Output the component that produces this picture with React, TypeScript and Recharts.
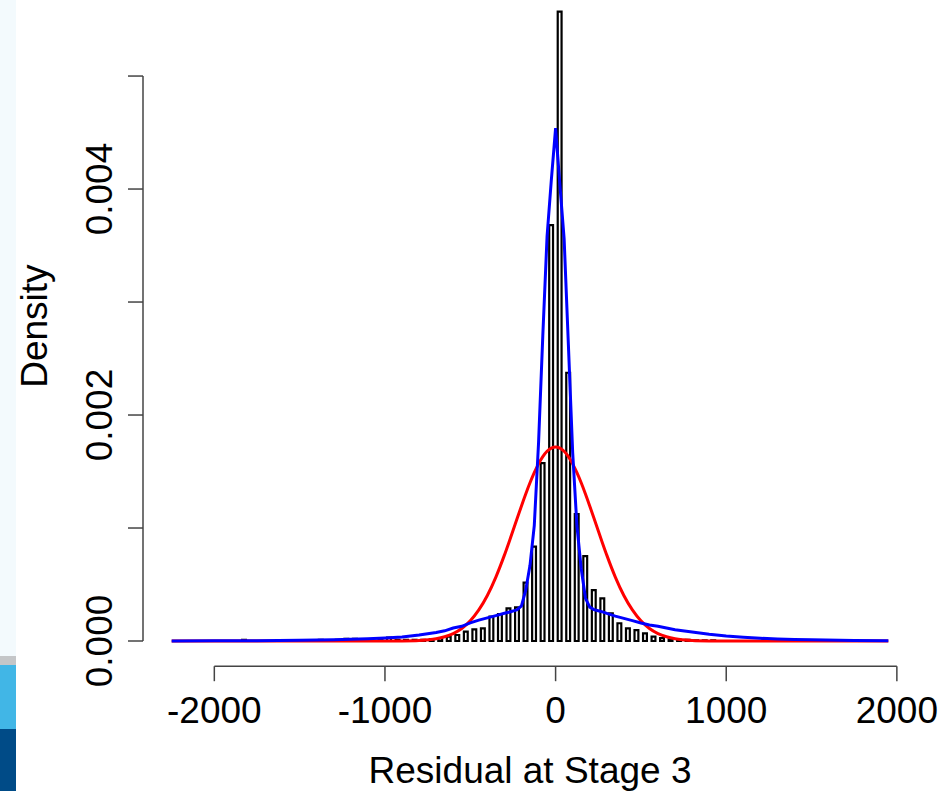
import {
  ComposedChart,
  Bar,
  Line,
  XAxis,
  YAxis,
  ReferenceLine,
} from 'recharts';

// histogram: bins of width 50 starting at -2250 (density per bin)
const binStart = -2250;
const binWidth = 50;
const histDensity = [
  0, 0, 0, 0, 0, 0, 0, 0, 0.00001, 0, // -2250 .. -1800
  0, 0, 0, 0, 0, 0, 0, 0.00001, 0, 0.00001, // -1750 .. -1300
  0.00002, 0.00002, 0.00001, 0, 0.00001, 0.00003, 0.00001, 0.00001, 0.00001, 0.00001, // -1250 .. -800
  0.000015, 0.000024, 0.000038, 0.000053, 0.000083, 0.000103, 0.000112, 0.000215, 0.000239, 0.000289, // -750 .. -300
  0.000298, 0.000516, 0.000835, 0.001575, 0.00368, 0.00557, 0.002374, 0.001124, 0.000752, 0.000451, // -250 .. 200
  0.000378, 0.000245, 0.000157, 0.000112, 0.000097, 0.000068, 0.000038, 0.000025, 0.000015, 0.00001, // 250 .. 700
  0.00001, 0.000005, 0.000005, 0.000005, 0, 0, 0, 0, 0, 0.00001, // 750 .. 1200
  0, 0, 0, 0, 0, 0, 0, 0, 0, 0, 0, 0, 0, 0, // 1250 .. 1900
];

// fitted density curves
const curveX = [
  -2250, -2000, -1750, -1500, -1400, -1300, -1200, -1100, -1000, -900,
  -800, -700, -650, -600, -550, -500, -450, -400, -350, -300,
  -275, -250, -225, -200, -175, -150, -125, -100, -75, -50,
  -25, 0, 25, 50, 75, 100, 125, 150, 175, 200,
  225, 250, 275, 300, 350, 400, 450, 500, 550, 600,
  650, 700, 800, 900, 1000, 1100, 1200, 1300, 1400, 1500,
  1750, 1950,
];
const normalFit = [
  0, 0, 0, 0, 0, 0, 0, 0, 0, 0.000001,
  0.000005, 0.00002, 0.000038, 0.000066, 0.000111, 0.000179, 0.000275, 0.000403, 0.000566, 0.00076,
  0.000866, 0.000975, 0.001086, 0.001195, 0.001301, 0.0014, 0.00149, 0.001568, 0.001632, 0.001679,
  0.001707, 0.001717, 0.001707, 0.001679, 0.001632, 0.001568, 0.00149, 0.0014, 0.001301, 0.001195,
  0.001086, 0.000975, 0.000866, 0.00076, 0.000566, 0.000403, 0.000275, 0.000179, 0.000111, 0.000066,
  0.000038, 0.00002, 0.000005, 0.000001, 0, 0, 0, 0, 0, 0,
  0, 0,
];
const heavyTailFit = [
  0.000001, 0.000002, 0.000003, 0.000006, 0.000008, 0.000011, 0.000015, 0.00002, 0.000027, 0.000036,
  0.000053, 0.000075, 0.00009, 0.000115, 0.00013, 0.00016, 0.000185, 0.000205, 0.000225, 0.000245,
  0.000255, 0.000265, 0.000278, 0.00031, 0.00045, 0.00067, 0.00102, 0.00175, 0.0027, 0.00358,
  0.00408, 0.00454, 0.00404, 0.00356, 0.00262, 0.00167, 0.00102, 0.00064, 0.00038, 0.0003,
  0.000278, 0.000268, 0.000258, 0.000245, 0.00022, 0.0002, 0.00018, 0.00016, 0.000142, 0.00013,
  0.000115, 0.0001, 0.00008, 0.00006, 0.000044, 0.000033, 0.000024, 0.000018, 0.000013, 0.00001,
  0.000005, 0.000002,
];

const xTicks = [-2000, -1000, 0, 1000, 2000];
const yTicks = [0, 0.001, 0.002, 0.003, 0.004, 0.005];
const yTickLabels = ['0.000', '', '0.002', '', '0.004', ''];

const histData = histDensity.map((d, i) => ({
  x: binStart + binWidth * i + binWidth / 2,
  density: d,
}));
const normalData = curveX.map((x, i) => ({ x, y: normalFit[i] }));
const heavyData = curveX.map((x, i) => ({ x, y: heavyTailFit[i] }));

const W = 941;
const H = 791;
const X_DOMAIN: [number, number] = [-2418, 2118];
const Y_DOMAIN: [number, number] = [-0.000223, 0.005673];
const LEFT = 143;
const RIGHT = 24;
const BOTTOM = 124.8;

const plotW = W - LEFT - RIGHT;
const barPx = (binWidth * plotW) / (X_DOMAIN[1] - X_DOMAIN[0]);

const font = {
  fontFamily: '"Liberation Sans", Arial, Helvetica, sans-serif',
  fontSize: 37,
  fill: '#000',
};
const axisStroke = '#444';

function XTick(props: any) {
  const { x, y, payload } = props;
  return (
    <text x={x} y={y + 40} textAnchor="middle" style={font}>
      {payload.value}
    </text>
  );
}

function YTick(props: any) {
  const { x, y, payload } = props;
  const label = yTickLabels[yTicks.indexOf(payload.value)];
  if (!label) return <g />;
  const tx = x - 14;
  return (
    <text x={tx} y={y} textAnchor="middle" transform={`rotate(-90, ${tx}, ${y})`} style={font}>
      {label}
    </text>
  );
}

function XLabel(props: any) {
  const vb = props.viewBox ?? { x: LEFT, y: H - BOTTOM, width: plotW, height: BOTTOM };
  return (
    <text x={vb.x + vb.width / 2} y={vb.y + 117} textAnchor="middle" style={font}>
      Residual at Stage 3
    </text>
  );
}

function YLabel(props: any) {
  const vb = props.viewBox ?? { x: 0, y: 0, width: LEFT, height: H - BOTTOM };
  const tx = vb.x + 47;
  const ty = vb.y + vb.height / 2 - 7;
  return (
    <text x={tx} y={ty} textAnchor="middle" transform={`rotate(-90, ${tx}, ${ty})`} style={font}>
      Density
    </text>
  );
}

export default function App() {
  return (
    <div style={{ position: 'absolute', left: 0, top: 0, width: W, height: H, background: '#fff' }}>
      {/* slide edge on the left */}
      <div style={{ position: 'absolute', left: 0, top: 0, width: 16, height: 656, background: '#f3fafd' }} />
      <div style={{ position: 'absolute', left: 0, top: 656, width: 16, height: 9, background: '#c4c6c8' }} />
      <div style={{ position: 'absolute', left: 0, top: 665, width: 16, height: 64, background: '#41b6e6' }} />
      <div style={{ position: 'absolute', left: 0, top: 729, width: 16, height: 62, background: '#004b87' }} />
      <div style={{ position: 'absolute', left: 0, top: 0 }}>
        <ComposedChart
          width={W}
          height={H}
          data={histData}
          margin={{ top: 0, right: RIGHT, left: 0, bottom: 0 }}
        >
          <XAxis
            dataKey="x"
            type="number"
            domain={X_DOMAIN}
            allowDataOverflow
            ticks={xTicks}
            interval={0}
            axisLine={false}
            tickLine={{ stroke: axisStroke, strokeWidth: 1.5 }}
            tickSize={15}
            height={BOTTOM}
            tick={<XTick />}
            label={<XLabel />}
          />
          <YAxis
            type="number"
            domain={Y_DOMAIN}
            allowDataOverflow
            ticks={yTicks}
            interval={0}
            axisLine={false}
            tickLine={{ stroke: axisStroke, strokeWidth: 1.5 }}
            tickSize={15}
            width={LEFT}
            tick={<YTick />}
            label={<YLabel />}
          />
          <ReferenceLine
            segment={[{ x: -2000, y: Y_DOMAIN[0] }, { x: 2000, y: Y_DOMAIN[0] }]}
            stroke={axisStroke}
            strokeWidth={1.5}
            ifOverflow="visible"
          />
          <ReferenceLine
            segment={[{ x: X_DOMAIN[0], y: 0 }, { x: X_DOMAIN[0], y: 0.005 }]}
            stroke={axisStroke}
            strokeWidth={1.5}
            ifOverflow="visible"
          />
          <Bar
            dataKey="density"
            fill="none"
            stroke="#000"
            strokeWidth={2.2}
            barSize={barPx}
            isAnimationActive={false}
          />
          <Line
            data={normalData}
            dataKey="y"
            type="monotone"
            stroke="#ff0000"
            strokeWidth={3}
            dot={false}
            activeDot={false}
            isAnimationActive={false}
          />
          <Line
            data={heavyData}
            dataKey="y"
            type="linear"
            stroke="#0000ff"
            strokeWidth={3}
            dot={false}
            activeDot={false}
            isAnimationActive={false}
          />
        </ComposedChart>
      </div>
    </div>
  );
}
